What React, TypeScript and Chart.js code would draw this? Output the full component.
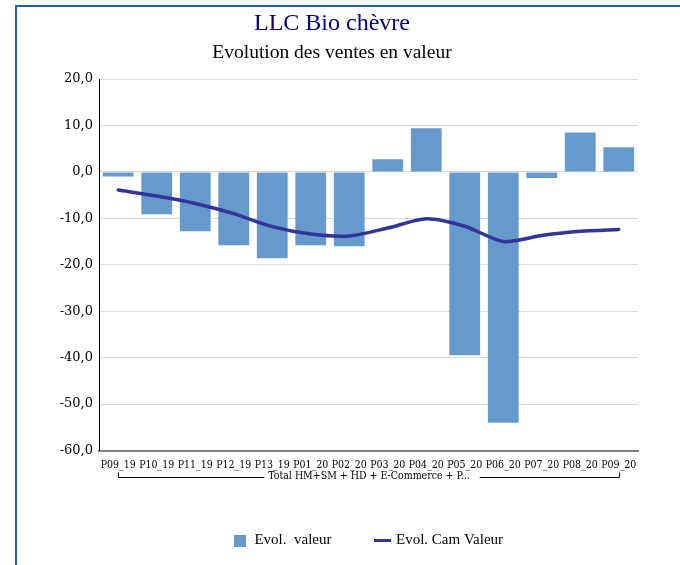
import React, { useEffect, useRef } from "react";
import { Chart, registerables } from "chart.js";

Chart.register(...registerables);

const chartTitle = "LLC Bio chèvre";
const chartSubtitle = "Evolution des ventes en valeur";
const groupLabel = "Total HM+SM + HD + E-Commerce + P...";
const seriesNames = ["Evol.  valeur", "Evol. Cam Valeur"];

const categories = [
  "P09_19", "P10_19", "P11_19", "P12_19", "P13_19", "P01_20", "P02_20",
  "P03_20", "P04_20", "P05_20", "P06_20", "P07_20", "P08_20", "P09_20",
];
const evolValeur = [-1.0, -9.1, -12.8, -15.8, -18.6, -15.8, -16.0, 2.7, 9.4, -39.5, -54.0, -1.3, 8.5, 5.3];
const evolCamValeur = [-3.9, -5.2, -6.8, -9.0, -11.8, -13.4, -13.8, -12.1, -10.1, -11.7, -15.0, -13.7, -12.8, -12.4];
const yTicks = [20, 10, 0, -10, -20, -30, -40, -50, -60];

const BAR_COLOR = "#6699CC";
const LINE_COLOR = "#333399";
const TITLE_COLOR = "#000080";
const SERIF = "'Liberation Serif', serif";
const WIDE_SERIF = "'DejaVu Serif', serif";
const COND_SERIF = "'DejaVu Serif Condensed', 'DejaVu Serif', serif";

function makeMarker(w: number, h: number, color: string) {
  const c = document.createElement("canvas");
  c.width = w;
  c.height = h;
  const g = c.getContext("2d")!;
  g.fillStyle = color;
  g.fillRect(0, 0, w, h);
  return c;
}

const groupBracket = {
  id: "groupBracket",
  afterDraw(chart: any) {
    const xs = chart.scales.x;
    const ctx = chart.ctx;
    const left = Math.round(xs.getPixelForValue(0)) + 0.5;
    const right = Math.round(xs.getPixelForValue(categories.length - 1)) + 0.5;
    const y = Math.round(chart.chartArea.bottom + 26) + 0.5;
    ctx.save();
    ctx.font = `10.5px ${COND_SERIF}`;
    const tw = ctx.measureText(groupLabel).width;
    const cx = (left + right) / 2;
    ctx.strokeStyle = "#000";
    ctx.lineWidth = 1;
    ctx.beginPath();
    ctx.moveTo(left, y - 5);
    ctx.lineTo(left, y);
    ctx.lineTo(cx - tw / 2 - 4, y);
    ctx.moveTo(cx + tw / 2 + 10, y);
    ctx.lineTo(right, y);
    ctx.lineTo(right, y - 5);
    ctx.stroke();
    ctx.fillStyle = "#000";
    ctx.textAlign = "center";
    ctx.textBaseline = "middle";
    ctx.fillText(groupLabel, cx, y - 1);
    ctx.restore();
  },
};

export default function App() {
  const ref = useRef<HTMLCanvasElement>(null);

  useEffect(() => {
    if (!ref.current) return;
    const markers = [makeMarker(12, 12, BAR_COLOR), makeMarker(17, 3, LINE_COLOR)];
    const chart = new Chart(ref.current, {
      type: "bar",
      data: {
        labels: categories,
        datasets: [
          {
            type: "bar",
            label: seriesNames[0],
            data: evolValeur,
            backgroundColor: BAR_COLOR,
            borderWidth: 0,
            barPercentage: 0.8,
            categoryPercentage: 1,
            order: 2,
          },
          {
            type: "line",
            label: seriesNames[1],
            data: evolCamValeur,
            borderColor: LINE_COLOR,
            backgroundColor: LINE_COLOR,
            borderWidth: 3.5,
            borderCapStyle: "round",
            pointRadius: 0,
            tension: 0.25,
            order: 1,
          },
        ],
      },
      options: {
        animation: false,
        responsive: false,
        devicePixelRatio: 1,
        layout: { padding: { left: 26, right: 42, top: 0, bottom: 7 } },
        plugins: {
          tooltip: { enabled: false },
          title: {
            display: true,
            text: chartTitle,
            color: TITLE_COLOR,
            font: { family: SERIF, size: 24, weight: "normal" },
            padding: { top: 9.6, bottom: 0 },
          },
          subtitle: {
            display: true,
            text: chartSubtitle,
            color: "#000",
            font: { family: SERIF, size: 19.5, weight: "normal" },
            padding: { top: 2.9, bottom: 14.3 },
          },
          legend: {
            position: "bottom",
            fullSize: false,
            labels: {
              usePointStyle: true,
              boxWidth: 13,
              padding: 44,
              color: "#000",
              font: { family: SERIF, size: 15 },
              sort: (a: any, b: any) => a.datasetIndex - b.datasetIndex,
              generateLabels: (ch: any) => {
                const items = (Chart.defaults.plugins.legend.labels as any).generateLabels(ch);
                items.forEach((it: any) => {
                  it.pointStyle = markers[it.datasetIndex];
                });
                return items;
              },
            },
          },
        },
        scales: {
          x: {
            grid: { display: false, drawTicks: false },
            border: { display: true, color: "#7f7f7f", width: 2 },
            ticks: {
              autoSkip: false,
              maxRotation: 0,
              minRotation: 0,
              padding: 8,
              color: "#000",
              font: { family: COND_SERIF, size: 10.5 },
            },
            afterFit: (s: any) => {
              s.height = 38.5;
            },
          },
          y: {
            min: -60,
            max: 20,
            grid: { color: "#d9d9d9", lineWidth: 1, drawTicks: false },
            border: { display: true, color: "#000", width: 1 },
            ticks: {
              padding: 6,
              color: "#000",
              font: { family: WIDE_SERIF, size: 13 },
              callback: (v: any) => Number(v).toFixed(1).replace(".", ","),
            },
            afterBuildTicks: (s: any) => {
              s.ticks = yTicks.map((v) => ({ value: v }));
            },
            afterFit: (s: any) => {
              s.width = 73;
            },
          },
        },
      },
      plugins: [groupBracket],
    });
    return () => chart.destroy();
  }, []);

  return (
    <div style={{ position: "absolute", left: 0, top: 0, width: 680, height: 565, overflow: "hidden", background: "#fff" }}>
      <div
        style={{
          position: "absolute",
          left: 15,
          top: 5,
          width: 700,
          height: 600,
          borderLeft: "2px solid #1f5fae",
          borderTop: "2px solid #1f5fae",
        }}
      />
      <canvas ref={ref} width={680} height={565} style={{ position: "absolute", left: 0, top: 0 }} />
    </div>
  );
}
